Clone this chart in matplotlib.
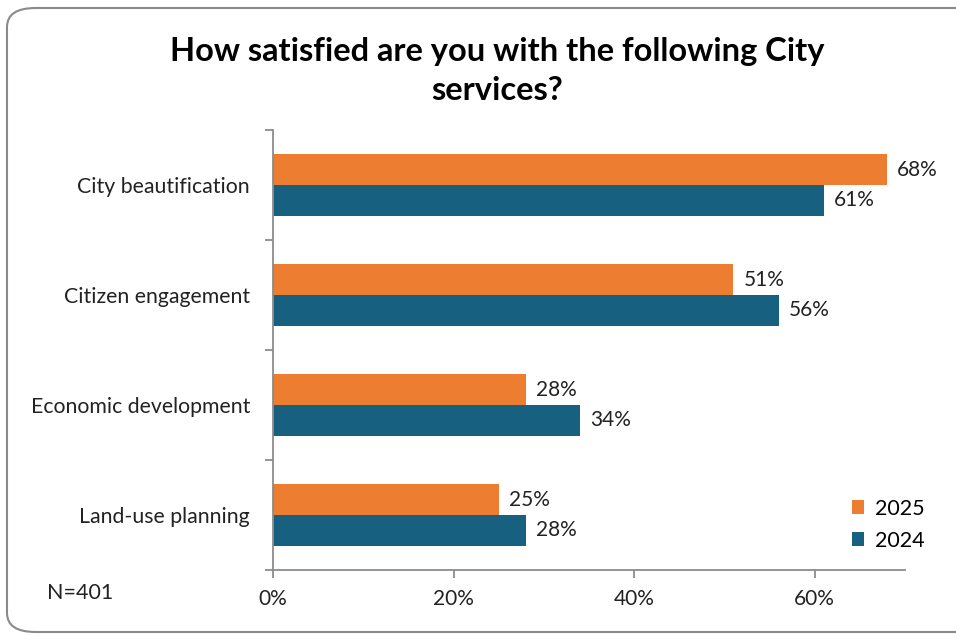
import matplotlib.pyplot as plt
import numpy as np
from matplotlib.patches import FancyBboxPatch

plt.rcParams['font.family'] = ['Lato', 'DejaVu Sans']

# Survey results, share satisfied (%)
services = ["City beautification", "Citizen engagement",
            "Economic development", "Land-use planning"]
vals_2025 = [68, 51, 28, 25]
vals_2024 = [61, 56, 34, 28]
x_ticks = [0, 20, 40, 60]
x_tick_labels = ["0%", "20%", "40%", "60%"]

orange = "#ED7D31"
blue = "#17607F"
axis_grey = "#8C8C8C"
text_col = "#222222"

fig = plt.figure(figsize=(9.56, 6.36), dpi=100)

# rounded frame around the whole chart
frame = FancyBboxPatch((7 / 956, 4 / 636), 1.2, 624 / 636,
                       boxstyle="round,pad=0,rounding_size=0.03",
                       transform=fig.transFigure, facecolor="white",
                       edgecolor="#8A8A8A", linewidth=1.5, zorder=-10)
fig.patches.append(frame)

ax = fig.add_axes([273 / 956, 1 - 570 / 636, 632 / 956, 440 / 636])
ax.set_facecolor("none")

y = np.arange(len(services))
h = 0.28
b25 = ax.barh(y - h / 2, vals_2025, height=h, color=orange, label="2025")
b24 = ax.barh(y + h / 2, vals_2024, height=h, color=blue, label="2024")

for bars, vals in ((b25, vals_2025), (b24, vals_2024)):
    for bar, v in zip(bars, vals):
        ax.text(v + 1.1, bar.get_y() + bar.get_height() / 2, f"{v}%",
                va="center", ha="left", fontsize=15, color=text_col)

ax.set_xlim(0, 70)
ax.set_ylim(len(services) - 0.5, -0.5)
ax.set_xticks(x_ticks)
ax.set_xticklabels(x_tick_labels, fontsize=15, color=text_col)
ax.set_yticks(y)
ax.set_yticklabels(services, fontsize=15.3, color=text_col)
ax.tick_params(axis="y", length=0, pad=16.5)
ax.set_yticks(np.arange(len(services) + 1) - 0.5, minor=True)
ax.tick_params(axis="y", which="minor", length=6, color=axis_grey, width=1.3)
ax.tick_params(axis="x", length=6, color=axis_grey, width=1.3, pad=8)

for side in ("top", "right"):
    ax.spines[side].set_visible(False)
for side in ("left", "bottom"):
    ax.spines[side].set_color(axis_grey)
    ax.spines[side].set_linewidth(1.3)

fig.text(497 / 956, 1 - 51 / 636, "How satisfied are you with the following City",
         ha="center", va="center", fontsize=23.5, fontweight="bold")
fig.text(497 / 956, 1 - 91 / 636, "services?",
         ha="center", va="center", fontsize=23.5, fontweight="bold")

fig.text(47 / 956, 1 - 593 / 636, "N=401", ha="left", va="center",
         fontsize=15.5, color=text_col)

ax.legend(handles=[b25, b24], loc="lower right", bbox_to_anchor=(1.062, 0.0),
          frameon=False, fontsize=15.5, handlelength=0.6, handleheight=0.6,
          handletextpad=0.5, labelspacing=0.55)

fig.savefig("out.png", dpi=100)
